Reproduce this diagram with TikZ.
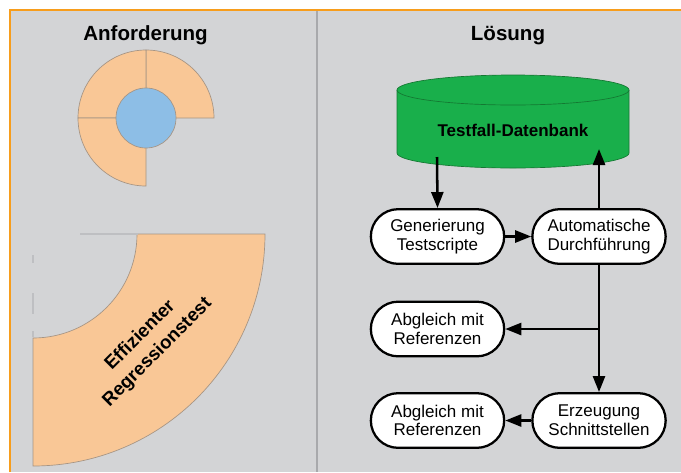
\documentclass[tikz,border=0pt]{standalone}
\usepackage{fontspec}
\setmainfont{Liberation Sans}
\usetikzlibrary{arrows.meta,shapes.misc}
\definecolor{panelgray}{RGB}{211,212,214}
\definecolor{framegray}{RGB}{168,169,172}
\definecolor{frameorange}{RGB}{247,157,28}
\definecolor{peach}{RGB}{249,199,150}
\definecolor{peachline}{RGB}{165,148,132}
\definecolor{discblue}{RGB}{141,190,230}
\definecolor{dbgreen}{RGB}{25,175,75}
\definecolor{dbedge}{RGB}{20,120,50}
\definecolor{faintgray}{RGB}{190,191,194}

\begin{document}
\begin{tikzpicture}[x=0.75pt,y=-0.75pt,>={Triangle[length=12pt,width=9pt]}]
    \tikzset{
        procbox/.style={rounded rectangle,draw,line width=1.7pt,fill=white,
            align=center,minimum width=104pt,minimum height=41pt,inner sep=2pt,
            font=\fontsize{12.75}{14}\selectfont},
        flow/.style={->,line width=1.9pt},
        ringpart/.style={fill=peach,draw=peachline,line width=0.5pt},
        headline/.style={anchor=base,font=\bfseries\fontsize{15.4}{18}\selectfont}
    }

    \useasboundingbox (0,0) rectangle (681,472);
    \fill[panelgray] (10,10) rectangle (681,472);
    \draw[framegray,line width=1.5pt] (317,10) -- (317,472);
    \draw[frameorange,line width=1.1pt] (10,472) -- (10,10) -- (681,10);

    \node[headline] (req) at (145.5,40.7) {Anforderung};
    \node[headline] (sol) at (508,40.7) {Lösung};

    \begin{scope}[shift={(146,118)},yscale=-1]
        \foreach \a in {0,90,180}
            \filldraw[ringpart] (\a:30) -- (\a:68)
                arc[start angle=\a,end angle=\a+90,radius=68] -- (\a+90:30) -- cycle;
        \filldraw[fill=discblue,draw=peachline,line width=0.5pt] (0,0) circle[radius=30];
    \end{scope}

    \begin{scope}[shift={(33,234)},yscale=-1]
        \filldraw[ringpart] (0:104) -- (0:232)
            arc[start angle=0,end angle=-90,radius=232] -- (-90:104)
            arc[start angle=-90,end angle=0,radius=104] -- cycle;
    \end{scope}
    \draw[faintgray,line width=0.8pt] (80,234) -- (138,234);
    \draw[faintgray,line width=0.8pt] (33,255) -- (33,263) (33,293) -- (33,314) (33,331) -- (33,337);
    \node[rotate=45,align=center,font=\bfseries\fontsize{14}{18}\selectfont]
        (goal) at (149,344) {Effizienter\\Regressionstest};

    \filldraw[fill=dbgreen,draw=dbedge,line width=0.5pt] (397,90) -- (397,153)
        arc[start angle=180,end angle=0,x radius=116,y radius=15] -- (629,90);
    \filldraw[fill=dbgreen,draw=dbedge,line width=0.5pt] (513,90) ellipse[x radius=116,y radius=15];
    \node[font=\bfseries\fontsize{12.75}{15}\selectfont] (db) at (513,130) {Testfall-Datenbank};
    \coordinate (dbout) at (437,157);
    \coordinate (dbin) at (599,149);

    \node[procbox] (gen) at (437.5,236.5) {Generierung\\Testscripte};
    \node[procbox] (aut) at (599,236.5) {Automatische\\Durchführung};
    \node[procbox] (abg1) at (437.5,329) {Abgleich mit\\Referenzen};
    \node[procbox] (abg2) at (437.5,420.5) {Abgleich mit\\Referenzen};
    \node[procbox] (erz) at (599,420.5) {Erzeugung\\Schnittstellen};

    \draw[flow] (dbout) -- (gen.north);
    \draw[flow] (gen.east) -- (aut.west);
    \draw[flow] (aut.north) -- (dbin);
    \draw[flow] (aut.south) -- (erz.north);
    \draw[flow] (aut.south |- abg1.east) -- (abg1.east);
    \draw[flow] (erz.west) -- (abg2.east);
\end{tikzpicture}
\end{document}
